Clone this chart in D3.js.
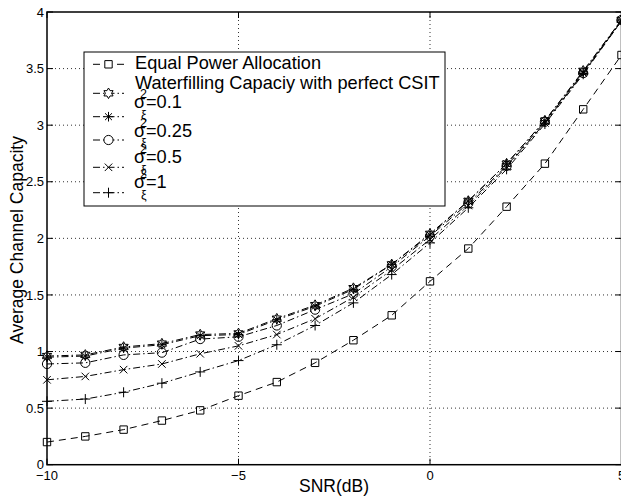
<!DOCTYPE html>
<html>
<head>
<meta charset="utf-8">
<script src="https://cdn.jsdelivr.net/npm/d3@7"></script>
<style>
  body { margin: 0; background: #fff; }
  svg { display: block; font-family: "Liberation Sans", Arial, Helvetica, sans-serif; }
</style>
</head>
<body>
<div id="chart"></div>
<script>
// Data
const snr = [-10, -9, -8, -7, -6, -5, -4, -3, -2, -1, 0, 1, 2, 3, 4, 5];
const equalPower = [0.20, 0.25, 0.31, 0.39, 0.48, 0.61, 0.73, 0.90, 1.10, 1.32, 1.62, 1.91, 2.28, 2.66, 3.14, 3.62];
const waterfill = [0.96, 0.97, 1.04, 1.07, 1.15, 1.16, 1.29, 1.41, 1.56, 1.77, 2.04, 2.33, 2.66, 3.04, 3.48, 3.93];
const sig01 = [0.95, 0.96, 1.03, 1.06, 1.14, 1.15, 1.28, 1.40, 1.55, 1.77, 2.03, 2.33, 2.66, 3.04, 3.47, 3.93];
const sig025 = [0.89, 0.90, 0.97, 0.99, 1.11, 1.13, 1.23, 1.37, 1.51, 1.75, 2.02, 2.31, 2.64, 3.03, 3.46, 3.93];
const sig05 = [0.75, 0.78, 0.84, 0.89, 0.98, 1.05, 1.15, 1.29, 1.48, 1.72, 1.99, 2.29, 2.63, 3.02, 3.46, 3.92];
const sig1 = [0.56, 0.58, 0.64, 0.72, 0.82, 0.92, 1.06, 1.23, 1.43, 1.68, 1.96, 2.27, 2.61, 3.01, 3.45, 3.92];

const xTicks = [-10, -5, 0, 5];
const yTicks = [0, 0.5, 1, 1.5, 2, 2.5, 3, 3.5, 4];

// Series (label text, sigma value or null)
const series = [
  { values: equalPower, marker: "square", dash: "7,5", label: "Equal Power Allocation", sigma: null },
  { values: waterfill, marker: "hexagram", dash: "7,3,1.5,3", label: "Waterfilling Capaciy with perfect CSIT", sigma: null },
  { values: sig01, marker: "asterisk", dash: "7,3,1.5,3", label: null, sigma: "0.1" },
  { values: sig025, marker: "circle", dash: "7,3,1.5,3", label: null, sigma: "0.25" },
  { values: sig05, marker: "x", dash: "7,3,1.5,3", label: null, sigma: "0.5" },
  { values: sig1, marker: "plus", dash: "7,3,1.5,3", label: null, sigma: "1" },
];

// Size
const W = 621, H = 499;
const plot = { left: 47, right: 621.5, top: 12, bottom: 464.7 };

const svg = d3.select("#chart").append("svg")
  .attr("width", W)
  .attr("height", H);

const x = d3.scaleLinear().domain([-10, 5]).range([plot.left, plot.right]);
const y = d3.scaleLinear().domain([0, 4]).range([plot.bottom, plot.top]);

// Grid
const grid = svg.append("g")
  .attr("stroke", "#333")
  .attr("stroke-width", 1)
  .attr("stroke-dasharray", "1,3");

grid.selectAll(".gx")
  .data(xTicks.slice(1, -1))
  .enter().append("line")
  .attr("x1", d => x(d)).attr("x2", d => x(d))
  .attr("y1", plot.top).attr("y2", plot.bottom);

grid.selectAll(".gy")
  .data(yTicks.slice(1, -1))
  .enter().append("line")
  .attr("x1", plot.left).attr("x2", plot.right)
  .attr("y1", d => y(d)).attr("y2", d => y(d));

// Markers
function markerPath(type, s) {
  const p = d3.path();
  if (type === "square") {
    p.rect(-s, -s, 2 * s, 2 * s);
  } else if (type === "circle") {
    p.arc(0, 0, s, 0, 2 * Math.PI);
  } else if (type === "x") {
    const k = s * 0.75;
    p.moveTo(-k, -k); p.lineTo(k, k);
    p.moveTo(-k, k); p.lineTo(k, -k);
  } else if (type === "plus") {
    p.moveTo(-s, 0); p.lineTo(s, 0);
    p.moveTo(0, -s); p.lineTo(0, s);
  } else if (type === "asterisk") {
    const k = s * 0.72;
    p.moveTo(-s, 0); p.lineTo(s, 0);
    p.moveTo(0, -s); p.lineTo(0, s);
    p.moveTo(-k, -k); p.lineTo(k, k);
    p.moveTo(-k, k); p.lineTo(k, -k);
  } else if (type === "hexagram") {
    const R = s * 1.15, r = R / Math.sqrt(3);
    for (let i = 0; i < 12; i++) {
      const a = -Math.PI / 2 + i * Math.PI / 6;
      const rr = i % 2 === 0 ? R : r;
      if (i === 0) p.moveTo(rr * Math.cos(a), rr * Math.sin(a));
      else p.lineTo(rr * Math.cos(a), rr * Math.sin(a));
    }
    p.closePath();
  }
  return p.toString();
}

const msize = { square: 3.7, circle: 4.6, x: 5, plus: 5, asterisk: 4.8, hexagram: 4.6 };

const line = d3.line()
  .x((d, i) => x(snr[i]))
  .y(d => y(d));

const seriesG = svg.append("g");

series.forEach(s => {
  seriesG.append("path")
    .attr("d", line(s.values))
    .attr("fill", "none")
    .attr("stroke", "#000")
    .attr("stroke-width", 1)
    .attr("stroke-dasharray", s.dash);

  seriesG.selectAll(null)
    .data(s.values)
    .enter().append("path")
    .attr("transform", (d, i) => "translate(" + x(snr[i]) + "," + y(d) + ")")
    .attr("d", markerPath(s.marker, msize[s.marker]))
    .attr("fill", "none")
    .attr("stroke", "#000")
    .attr("stroke-width", 1);
});

// Axes box
svg.append("rect")
  .attr("x", plot.left).attr("y", plot.top)
  .attr("width", plot.right - plot.left)
  .attr("height", plot.bottom - plot.top)
  .attr("fill", "none")
  .attr("stroke", "#000")
  .attr("stroke-width", 1.5);

// Ticks (inward)
const TL = 6;
const ticks = svg.append("g").attr("stroke", "#000").attr("stroke-width", 1);
yTicks.forEach(t => {
  ticks.append("line").attr("x1", plot.left).attr("x2", plot.left + TL).attr("y1", y(t)).attr("y2", y(t));
  ticks.append("line").attr("x1", plot.right).attr("x2", plot.right - TL).attr("y1", y(t)).attr("y2", y(t));
});
xTicks.forEach(t => {
  ticks.append("line").attr("x1", x(t)).attr("x2", x(t)).attr("y1", plot.bottom).attr("y2", plot.bottom - TL);
  ticks.append("line").attr("x1", x(t)).attr("x2", x(t)).attr("y1", plot.top).attr("y2", plot.top + TL);
});

// Tick labels
svg.append("g").selectAll("text")
  .data(yTicks)
  .enter().append("text")
  .attr("x", plot.left - 3)
  .attr("y", d => y(d))
  .attr("dy", "0.36em")
  .attr("text-anchor", "end")
  .attr("font-size", 13)
  .text(d => d);

svg.append("g").selectAll("text")
  .data(xTicks)
  .enter().append("text")
  .attr("x", d => x(d))
  .attr("y", plot.bottom + 15)
  .attr("text-anchor", "middle")
  .attr("font-size", 13)
  .text(d => (d < 0 ? "\u2212" + Math.abs(d) : d));

// Axis labels
svg.append("text")
  .attr("x", 334)
  .attr("y", 492)
  .attr("text-anchor", "middle")
  .attr("font-size", 17.5)
  .text("SNR(dB)");

svg.append("text")
  .attr("transform", "translate(23,240) rotate(-90)")
  .attr("text-anchor", "middle")
  .attr("font-size", 17.5)
  .text("Average Channel Capacity");

// Legend
const legBox = { x: 84, y: 52, w: 361, h: 154 };
const markerRows = [64.3, 93.3, 116.7, 140, 167.3, 192.7];
const textRows = [69.3, 89.3, 108.3, 136.7, 163.3, 188.3];

const leg = svg.append("g");
leg.append("rect")
  .attr("x", legBox.x).attr("y", legBox.y)
  .attr("width", legBox.w).attr("height", legBox.h)
  .attr("fill", "#fff")
  .attr("stroke", "#000")
  .attr("stroke-width", 1);

series.forEach((s, i) => {
  const my = markerRows[i];
  leg.append("line")
    .attr("x1", 93).attr("x2", 124)
    .attr("y1", my).attr("y2", my)
    .attr("stroke", "#000")
    .attr("stroke-width", 1)
    .attr("stroke-dasharray", s.dash);
  leg.append("path")
    .attr("transform", "translate(108.5," + my + ")")
    .attr("d", markerPath(s.marker, msize[s.marker]))
    .attr("fill", "#fff")
    .attr("stroke", "#000");

  const ty = textRows[i];
  if (s.sigma === null) {
    leg.append("text")
      .attr("x", 135).attr("y", ty)
      .attr("font-size", 18.2)
      .text(s.label);
  } else {
    leg.append("text").attr("x", 134).attr("y", ty).attr("font-size", 18.2).text("\u03c3");
    leg.append("text").attr("x", 140).attr("y", ty - 10).attr("font-size", 12.5).text("2");
    leg.append("text").attr("x", 141).attr("y", ty + 10.5).attr("font-size", 12.5).text("\u03be");
    leg.append("text").attr("x", 146).attr("y", ty).attr("font-size", 18.2).text("=" + s.sigma);
  }
});
</script>
</body>
</html>
